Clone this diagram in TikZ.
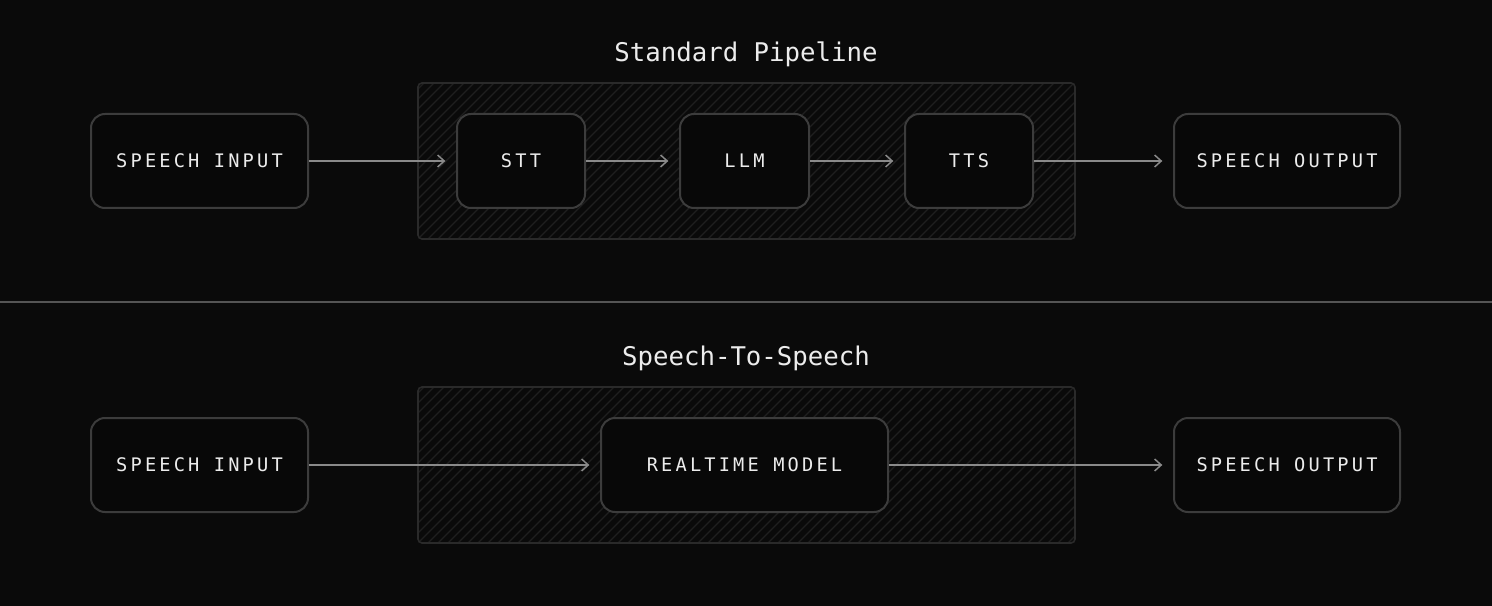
\documentclass[tikz,border=0pt]{standalone}
\usepackage{fontspec}
\setmonofont{DejaVu Sans Mono}
\newfontfamily\labfont[LetterSpace=17]{DejaVu Sans Mono}
\newfontfamily\titfont{DejaVu Sans Mono}
\usetikzlibrary{arrows.meta}
\definecolor{bg}{HTML}{0A0A0A}
\definecolor{boxfill}{HTML}{080808}
\definecolor{boxline}{HTML}{3C3C3C}
\definecolor{groupline}{HTML}{2A2A2A}
\definecolor{hatch}{HTML}{1F1F1F}
\definecolor{arrowc}{HTML}{8A8A8A}
\definecolor{txt}{HTML}{ECECEC}
\definecolor{sep}{HTML}{555555}
\tikzset{
  blockbox/.style={draw=boxline, line width=1.5pt, fill=boxfill, rounded corners=10.5pt,
    minimum height=70.5pt, inner sep=0pt, text=txt, font=\labfont\fontsize{14}{16}\selectfont},
  flowarrow/.style={draw=arrowc, line width=1.1pt, -{Straight Barb[length=5pt,width=9pt,line width=1.1pt]}, shorten >=8pt},
  titletext/.style={text=txt, font=\titfont\fontsize{19.3}{22}\selectfont, inner sep=0pt},
  groupbox/.style={draw=groupline, line width=1.2pt, rounded corners=3pt},
}
\begin{document}
\begin{tikzpicture}[x=0.75pt,y=-0.75pt]
\fill[bg] (0,0) rectangle (1492,606);
\useasboundingbox (0,0) rectangle (1492,606);
% hatched groups
\foreach \yt/\yb in {83/239, 387/543}{
  \begin{scope}
    \clip[rounded corners=3pt] (418,\yt) rectangle (1075,\yb);
    \foreach \i in {-170,-160,...,670}{
      \draw[hatch, line width=1pt] (418+\i,\yb) -- ++(170,-170);
    }
  \end{scope}
  \draw[groupbox] (418,\yt) rectangle (1075,\yb);
}
% titles
\node[titletext] (t1) at (746,54) {Standard Pipeline};
\node[titletext] (t2) at (746,358) {Speech-To-Speech};
% separator
\coordinate (sl) at (0,302);
\coordinate (sr) at (1492,302);
\draw[sep, line width=1.5pt] (sl) -- (sr);
% top row
\node[blockbox, minimum width=162.75pt] (in1) at (199.5,161) {SPEECH INPUT};
\node[blockbox, minimum width=96pt] (stt) at (521,161) {STT};
\node[blockbox, minimum width=96.75pt] (llm) at (744.5,161) {LLM};
\node[blockbox, minimum width=96pt] (tts) at (969,161) {TTS};
\node[blockbox, minimum width=169.5pt] (out1) at (1287,161) {SPEECH OUTPUT};
\draw[flowarrow] (in1) -- (stt);
\draw[flowarrow] (stt) -- (llm);
\draw[flowarrow] (llm) -- (tts);
\draw[flowarrow] (tts) -- (out1);
% bottom row
\node[blockbox, minimum width=162.75pt] (in2) at (199.5,465) {SPEECH INPUT};
\node[blockbox, minimum width=215.25pt] (rt) at (744.5,465) {REALTIME MODEL};
\node[blockbox, minimum width=169.5pt] (out2) at (1287,465) {SPEECH OUTPUT};
\draw[flowarrow] (in2) -- (rt);
\draw[flowarrow] (rt) -- (out2);
\end{tikzpicture}
\end{document}
